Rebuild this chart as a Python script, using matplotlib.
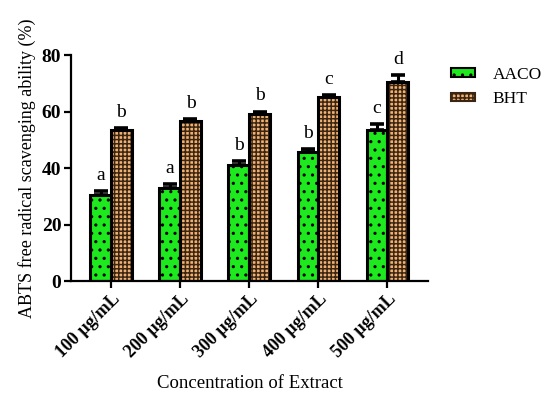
import numpy as np
import matplotlib
matplotlib.use("Agg")
import matplotlib.pyplot as plt
from matplotlib.patches import Patch

plt.rcParams["font.family"] = ["Liberation Serif", "DejaVu Serif"]
plt.rcParams["hatch.linewidth"] = 1.1

concentrations = ["100 µg/mL", "200 µg/mL", "300 µg/mL", "400 µg/mL", "500 µg/mL"]
aaco = [30.5, 33.0, 41.0, 45.5, 53.5]
aaco_err = [1.3, 1.2, 1.5, 1.2, 2.0]
aaco_letters = ["a", "a", "b", "b", "c"]
bht = [53.5, 56.5, 59.0, 65.0, 70.5]
bht_err = [0.7, 1.0, 1.0, 0.8, 2.3]
bht_letters = ["b", "b", "b", "c", "d"]

green = "#1ee81e"
tan = "#f2b272"
dark = "#3b2614"

fig = plt.figure(figsize=(5.44, 3.96), dpi=100)
ax = fig.add_axes([0.1305, 0.2904, 0.787 - 0.1305, 0.861 - 0.2904])

x = np.arange(len(concentrations))
w = 0.30


def hatched_bars(pos, vals, face, hatch, hcol):
    # fill + hatch (edge colour drives hatch colour), then black outline
    ax.bar(pos, vals, w, color=face, edgecolor=hcol, hatch=hatch, linewidth=0, zorder=2)
    ax.bar(pos, vals, w, facecolor="none", edgecolor="black", linewidth=2.2, zorder=3)


hatched_bars(x - w / 2, aaco, green, "..", "black")
hatched_bars(x + w / 2, bht, tan, "++++", dark)

for pos, vals, errs in ((x - w / 2, aaco, aaco_err), (x + w / 2, bht, bht_err)):
    ax.errorbar(pos, vals, yerr=[np.zeros(len(errs)), errs], fmt="none",
                ecolor="black", elinewidth=2.2, capsize=5, capthick=2.6, zorder=4)

for pos, vals, errs, letters in ((x - w / 2, aaco, aaco_err, aaco_letters),
                                 (x + w / 2, bht, bht_err, bht_letters)):
    for p, v, e, t in zip(pos, vals, errs, letters):
        ax.text(p, v + e + 2.5, t, ha="center", va="bottom", fontsize=14)

ax.set_xlim(-0.58, 4.59)
ax.set_ylim(0, 80)
ax.set_yticks([0, 20, 40, 60, 80])
ax.set_xticks(x)
ax.set_xticklabels(concentrations, rotation=45, ha="right", rotation_mode="anchor",
                   fontweight="bold", fontsize=13)
for lab in ax.get_yticklabels():
    lab.set_fontweight("bold")
    lab.set_fontsize(14)

for s in ("top", "right"):
    ax.spines[s].set_visible(False)
for s in ("left", "bottom"):
    ax.spines[s].set_linewidth(1.6)
ax.tick_params(axis="both", width=1.6, length=5, pad=2)

ax.set_ylabel("ABTS free radical scavenging ability (%)", fontsize=13, labelpad=4)
ax.set_xlabel("Concentration of Extract", fontsize=13.5, labelpad=10)

handles = [Patch(facecolor=green, edgecolor="black", hatch="..", linewidth=1.5, label="AACO"),
           Patch(facecolor=tan, edgecolor=dark, hatch="++++", linewidth=1.5, label="BHT")]
fig.legend(handles=handles, loc="upper left", bbox_to_anchor=(0.829, 0.832),
           frameon=False, fontsize=12.5, handlelength=1.4, handleheight=0.4,
           handletextpad=1.0, labelspacing=0.5, borderpad=0, borderaxespad=0)

fig.savefig("out.png", dpi=100)
